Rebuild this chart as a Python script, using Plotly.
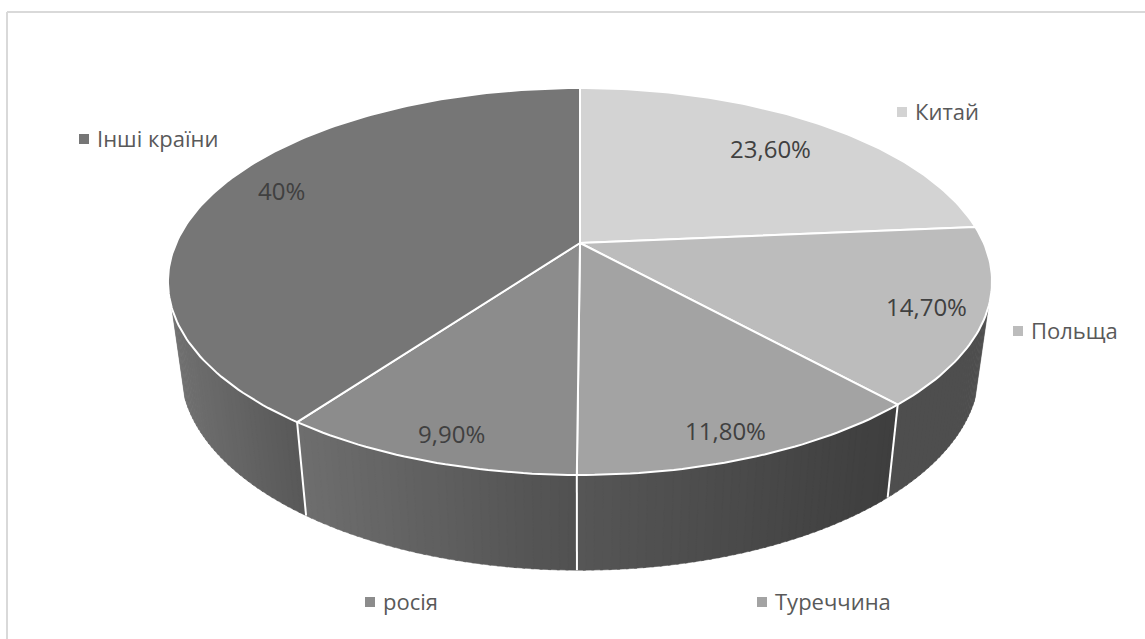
import math
import plotly.graph_objects as go

# ---- data ----
categories = ["Китай", "Польща", "Туреччина", "росія", "Інші країни"]
shares = [23.6, 14.7, 11.8, 9.9, 40.0]
value_labels = ["23,60%", "14,70%", "11,80%", "9,90%", "40%"]

# ---- styles ----
top_colors = ["#d3d3d3", "#bcbcbc", "#a3a3a3", "#8c8c8c", "#767676"]
wall_from = [(210, 210, 210), (78, 78, 78), (86, 86, 86), (110, 110, 110), (112, 112, 112)]
wall_to = [(210, 210, 210), (78, 78, 78), (62, 62, 62), (80, 80, 80), (88, 88, 88)]
label_xy = [(770, 148), (926, 306), (725, 430), (451, 433), (281, 190)]
legend_xy = [(902, 112), (1018, 331), (762, 602), (370, 602), (84, 139)]

W, H = 1145, 639
CX, K = 580.0, 0.199
TOP = dict(cy=243.0, a=403.8, b=185.8)
BOT = dict(cy=330.5, a=391.0, b=192.0)


def proj(theta, r=1.0, ring=TOP):
    u, v = r * math.sin(theta), r * math.cos(theta)
    w = 1 + K * v
    return CX + ring["a"] * u / w, ring["cy"] - ring["b"] * v / w


def arc(t0, t1, ring, step=math.radians(1)):
    n = max(2, int(abs(t1 - t0) / step) + 1)
    return [proj(t0 + (t1 - t0) * i / (n - 1), ring=ring) for i in range(n)]


total = sum(shares)
edges = [0.0]
for s in shares:
    edges.append(edges[-1] + s / total * 2 * math.pi)

fig = go.Figure()


def poly(points, fill=None, line=None, width=0):
    xs = [p[0] for p in points]
    ys = [p[1] for p in points]
    fig.add_trace(go.Scatter(
        x=xs, y=ys, mode="lines", hoverinfo="skip", showlegend=False,
        fill="toself" if fill else None, fillcolor=fill,
        line=dict(color=line or "rgba(0,0,0,0)", width=width)))


# side walls, in narrow bands for the horizontal gradient
FRONT0, FRONT1 = math.radians(109), math.radians(251)
for i in range(len(shares)):
    t0, t1 = max(edges[i], FRONT0), min(edges[i + 1], FRONT1)
    if t1 <= t0:
        continue
    x0 = proj(t0)[0]
    x1 = proj(t1)[0]
    lo, hi = min(x0, x1), max(x0, x1)
    bands = max(4, int(math.degrees(t1 - t0)))
    for b in range(bands):
        a0 = t0 + (t1 - t0) * b / bands
        a1 = min(t0 + (t1 - t0) * (b + 1.3) / bands, t1)
        f = (proj((a0 + a1) / 2)[0] - lo) / (hi - lo)
        c = [round(wall_from[i][j] + (wall_to[i][j] - wall_from[i][j]) * f) for j in range(3)]
        col = f"rgb({c[0]},{c[1]},{c[2]})"
        quad = arc(a0, a1, TOP) + arc(a1, a0, BOT)
        poly(quad + quad[:1], fill=col, line=col, width=0.5)

# seams between the walls
for e in edges[1:-1]:
    if FRONT0 <= e <= FRONT1:
        poly([proj(e, ring=TOP), proj(e, ring=BOT)], line="white", width=2)

# top faces
for i in range(len(shares)):
    pts = [(CX, TOP["cy"])] + arc(edges[i], edges[i + 1], TOP) + [(CX, TOP["cy"])]
    poly(pts, fill=top_colors[i], line="white", width=2)

annotations = []
for i, name in enumerate(categories):
    lx, ly = label_xy[i]
    annotations.append(dict(x=lx, y=ly, text=value_labels[i], showarrow=False,
                            font=dict(family="Open Sans", size=24, color="#404040")))
    mx, my = legend_xy[i]
    annotations.append(dict(x=mx + 11, y=my - 1, text=name, showarrow=False, xanchor="left",
                            font=dict(family="Open Sans", size=22, color="#595959")))

fig.add_trace(go.Scatter(
    x=[p[0] for p in legend_xy], y=[p[1] for p in legend_xy], mode="markers",
    hoverinfo="skip", showlegend=False,
    marker=dict(symbol="square", size=10, color=top_colors, line=dict(width=0))))

fig.update_layout(
    width=W, height=H, margin=dict(l=0, r=0, t=0, b=0),
    paper_bgcolor="white", plot_bgcolor="white", showlegend=False,
    xaxis=dict(range=[0, W], visible=False, fixedrange=True),
    yaxis=dict(range=[H, 0], visible=False, fixedrange=True),
    annotations=annotations,
    shapes=[
        dict(type="line", x0=7, y0=12, x1=W, y1=12, line=dict(color="#d9d9d9", width=2)),
        dict(type="line", x0=7, y0=12, x1=7, y1=H, line=dict(color="#d9d9d9", width=2)),
    ],
)
fig.write_html("out.html", config=dict(displayModeBar=False),
               post_script="document.body.style.margin='0';")
